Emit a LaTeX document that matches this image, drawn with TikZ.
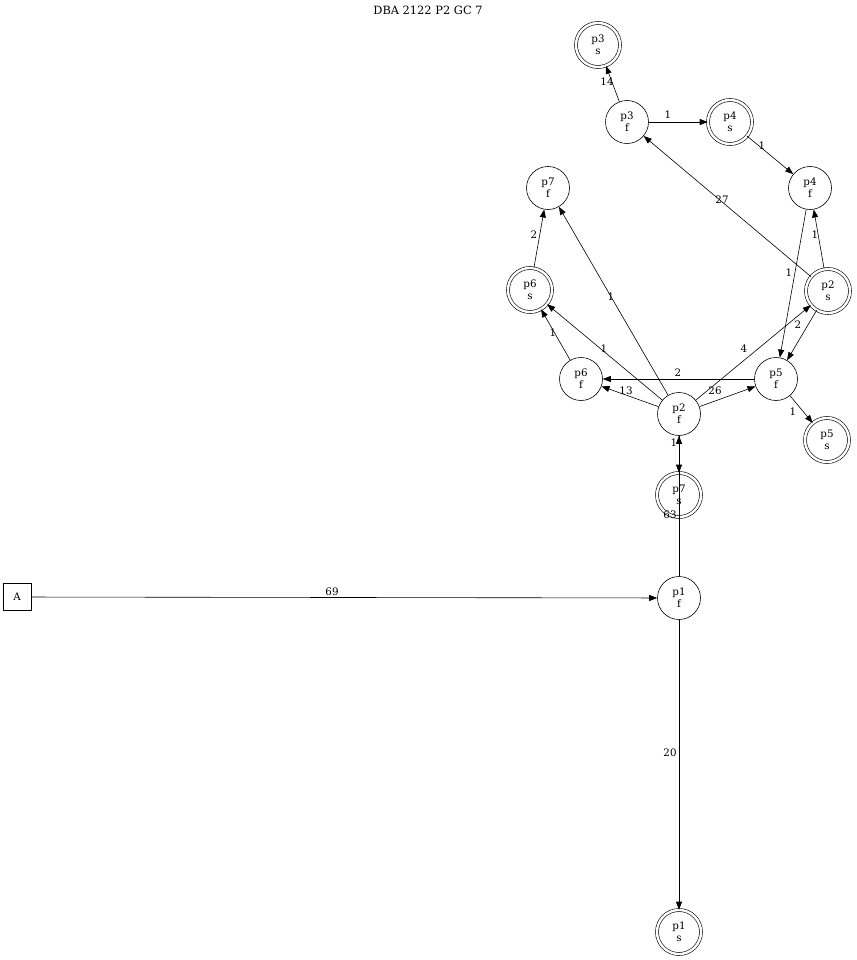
\documentclass[tikz,border=0pt]{standalone}
\usepackage{fontspec}
\setmainfont{DejaVu Serif}
\usetikzlibrary{arrows.meta}
\begin{document}
\begin{tikzpicture}[x=1pt,y=-1pt,
  every node/.style={font=\fontsize{10.3}{12}\selectfont},
  st/.style={circle,draw,line width=0.6pt,minimum size=43pt,inner sep=0pt,align=center},
  dst/.style={circle,draw,line width=0.6pt,double,double distance=2.4pt,minimum size=44pt,inner sep=0pt,align=center},
  bx/.style={rectangle,draw,line width=0.6pt,minimum width=28pt,minimum height=27pt,inner sep=0pt},
  lbl/.style={inner sep=0pt},
  e/.style={line width=0.6pt,-{Triangle[length=8pt,width=6pt]}}]
\useasboundingbox (0,0) rectangle (856,960);
\node[lbl,font=\fontsize{11.4}{13}\selectfont] (title) at (428,10) {DBA 2122 P2 GC 7};
\node[dst] (p3s) at (598,45) {p3\\s};
\node[st] (p3f) at (627,122) {p3\\f};
\node[dst] (p4s) at (730,122) {p4\\s};
\node[st] (p4f) at (810,188) {p4\\f};
\node[st] (p7f) at (548,188) {p7\\f};
\node[dst] (p6s) at (530,290) {p6\\s};
\node[dst] (p2s) at (828,291) {p2\\s};
\node[st] (p6f) at (581,379) {p6\\f};
\node[st] (p5f) at (776,379) {p5\\f};
\node[dst] (p5s) at (827,440) {p5\\s};
\node[st] (p2f) at (679,414) {p2\\f};
\node[dst] (p7s) at (679,495) {p7\\s};
\node[st] (p1f) at (679,598) {p1\\f};
\node[bx] (A) at (17,597) {A};
\node[dst] (p1s) at (679,932) {p1\\s};

\draw[e] (A) -- (p1f);
\draw[e] (p1f) -- (p2f);
\draw[e] (p1f) -- (p1s);
\draw[e] (p2f) -- (p7s);
\draw[e] (p2f) -- (p6f);
\draw[e] (p2f) -- (p5f);
\draw[e] (p2f) -- (p2s);
\draw[e] (p2f) -- (p6s);
\draw[e] (p2f) -- (p7f);
\draw[e] (p6f) -- (p6s);
\draw[e] (p6s) -- (p7f);
\draw[e] (p5f) -- (p6f);
\draw[e] (p5f) -- (p5s);
\draw[e] (p2s) -- (p5f);
\draw[e] (p2s) -- (p4f);
\draw[e] (p2s) -- (p3f);
\draw[e] (p4f) -- (p5f);
\draw[e] (p4s) -- (p4f);
\draw[e] (p3f) -- (p4s);
\draw[e] (p3f) -- (p3s);

\node[lbl] (l1) at (607,82) {14};
\node[lbl] (l2) at (668,115) {1};
\node[lbl] (l3) at (762,146) {1};
\node[lbl] (l4) at (722,200) {27};
\node[lbl] (l5) at (534,235) {2};
\node[lbl] (l6) at (815,235) {1};
\node[lbl] (l7) at (789,273) {1};
\node[lbl] (l8) at (611,297) {1};
\node[lbl] (l9) at (553,333) {1};
\node[lbl] (l10) at (604,349) {1};
\node[lbl] (l11) at (744,349) {4};
\node[lbl] (l12) at (798,325) {2};
\node[lbl] (l13) at (678,373) {2};
\node[lbl] (l14) at (626,391) {13};
\node[lbl] (l15) at (715,391) {26};
\node[lbl] (l16) at (793,412) {1};
\node[lbl] (l17) at (674,443) {1};
\node[lbl] (l18) at (670,515) {63};
\node[lbl] (l19) at (332,592) {69};
\node[lbl] (l20) at (670,753) {20};
\end{tikzpicture}
\end{document}
